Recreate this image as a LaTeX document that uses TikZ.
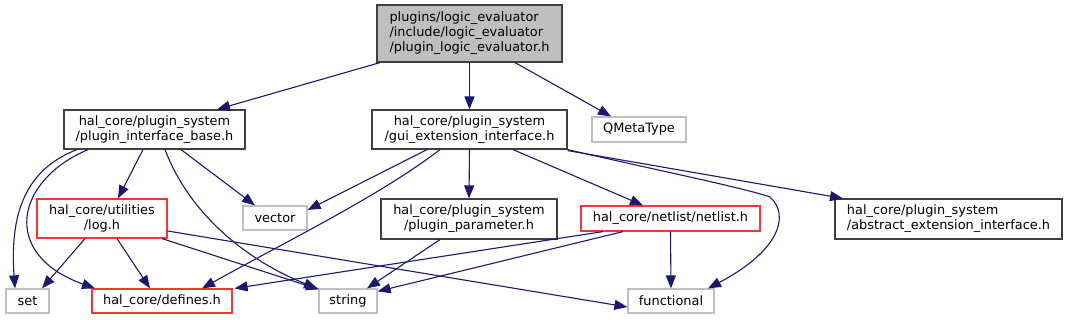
\documentclass[tikz,border=0pt]{standalone}
\usepackage{fontspec}
\setmainfont{DejaVu Sans}
\usetikzlibrary{arrows.meta}
\definecolor{edgeblue}{HTML}{191970}
\definecolor{extgray}{HTML}{BFBFBF}
\definecolor{boxdark}{HTML}{404040}
\definecolor{boxred}{HTML}{FF3333}
\tikzset{
  box/.style={draw=boxdark, line width=1.2pt, inner sep=0pt, align=center,
    font=\fontsize{12.9}{15}\selectfont},
  ext/.style={box, draw=extgray},
  redbox/.style={box, draw=boxred},
  rootbox/.style={box, fill=extgray, align=left},
  dep/.style={draw=edgeblue, line width=1.1pt, -{Triangle[length=13pt,width=10pt]}},
}
\begin{document}
\begin{tikzpicture}[x=1pt,y=-1pt]
\useasboundingbox (0,0) rectangle (1067,320);
% nodes
\node[rootbox, minimum width=185pt, minimum height=57pt] (root) at (469.5,33.5)
  {plugins/logic\_evaluator\\/include/logic\_evaluator\\/plugin\_logic\_evaluator.h};
\node[box, minimum width=181pt, minimum height=39pt] (pib) at (154.5,129.5)
  {hal\_core/plugin\_system\\/plugin\_interface\_base.h};
\node[box, minimum width=195pt, minimum height=39pt] (gei) at (469.5,129.5)
  {hal\_core/plugin\_system\\/gui\_extension\_interface.h};
\node[ext, minimum width=94pt, minimum height=25pt] (qmt) at (639,129.5) {QMetaType};
\node[redbox, minimum width=130pt, minimum height=39pt] (log) at (102,218.5)
  {hal\_core/utilities\\/log.h};
\node[ext, minimum width=64pt, minimum height=24pt] (vec) at (275,218) {vector};
\node[box, minimum width=176pt, minimum height=40pt] (param) at (469,219)
  {hal\_core/plugin\_system\\/plugin\_parameter.h};
\node[redbox, minimum width=179pt, minimum height=25pt] (net) at (670.5,218.5)
  {hal\_core/netlist/netlist.h};
\node[box, align=left, minimum width=227pt, minimum height=40pt] (abs) at (948.5,219)
  {hal\_core/plugin\_system\\/abstract\_extension\_interface.h};
\node[ext, minimum width=43pt, minimum height=24pt] (set) at (27.5,301) {set};
\node[redbox, minimum width=140pt, minimum height=24pt] (def) at (162,301) {hal\_core/defines.h};
\node[ext, minimum width=58pt, minimum height=24pt] (str) at (348,301) {string};
\node[ext, minimum width=86pt, minimum height=24pt] (fun) at (671,301) {functional};
% edges from root
\draw[dep] ([xshift=-89.5pt]root.south) -- ([xshift=62.5pt]pib.north);
\draw[dep] (root.south) -- (gei.north);
\draw[dep] ([xshift=45.5pt]root.south) -- ([xshift=-28pt]qmt.north);
% edges from plugin_interface_base
\draw[dep] ([xshift=-77.5pt]pib.south) .. controls +(-55,21) and +(-5,-69) .. ([xshift=-12.5pt]set.north);
\draw[dep] ([xshift=-66.5pt]pib.south) .. controls +(-73,31) and +(-95,-34) .. ([xshift=-67pt]def.north);
\draw[dep] ([xshift=-11.5pt]pib.south) -- ([xshift=16pt]log.north);
\draw[dep] ([xshift=26.5pt]pib.south) -- ([xshift=-20pt]vec.north);
\draw[dep] ([xshift=10.5pt]pib.south) .. controls +(25,66) and +(-68,-27) .. ([xshift=-31pt]str.north);
% edges from gui_extension_interface
\draw[dep] ([xshift=-42.5pt]gei.south) -- ([yshift=8pt]vec.east);
\draw[dep] ([xshift=-29.5pt]gei.south) .. controls +(-60,46) and +(88,-49) .. ([xshift=40pt]def.north);
\draw[dep] (gei.south) -- (param.north);
\draw[dep] ([xshift=43.5pt]gei.south) -- ([xshift=-27.5pt]net.north);
\draw[dep] (gei.south east) .. controls +(73,17) and +(-25,-9) .. (770,197)
  .. controls +(20,18) and +(72,-38) .. ([xshift=37pt]fun.north);
\draw[dep] ([yshift=-1pt]gei.south east) -- ([xshift=-105.5pt]abs.north);
% edges from log.h
\draw[dep] ([xshift=-17pt]log.south) -- ([xshift=14.5pt]set.north);
\draw[dep] ([xshift=15pt]log.south) -- ([xshift=-12pt]def.north);
\draw[dep] ([xshift=60pt]log.south) -- ([xshift=-29pt, yshift=-1pt]str.north);
\draw[dep] ([yshift=-12.5pt]log.east) -- ([yshift=-6pt]fun.west);
% edges from plugin_parameter
\draw[dep] ([xshift=-29pt]param.south) -- ([xshift=19pt]str.north);
% edges from netlist
\draw[dep] ([xshift=-67.5pt]net.south) -- ([xshift=2pt]def.north east);
\draw[dep] ([xshift=-47.5pt]net.south) -- ([yshift=-3pt]str.north east);
\draw[dep] (net.south) -- (fun.north);
\end{tikzpicture}
\end{document}
